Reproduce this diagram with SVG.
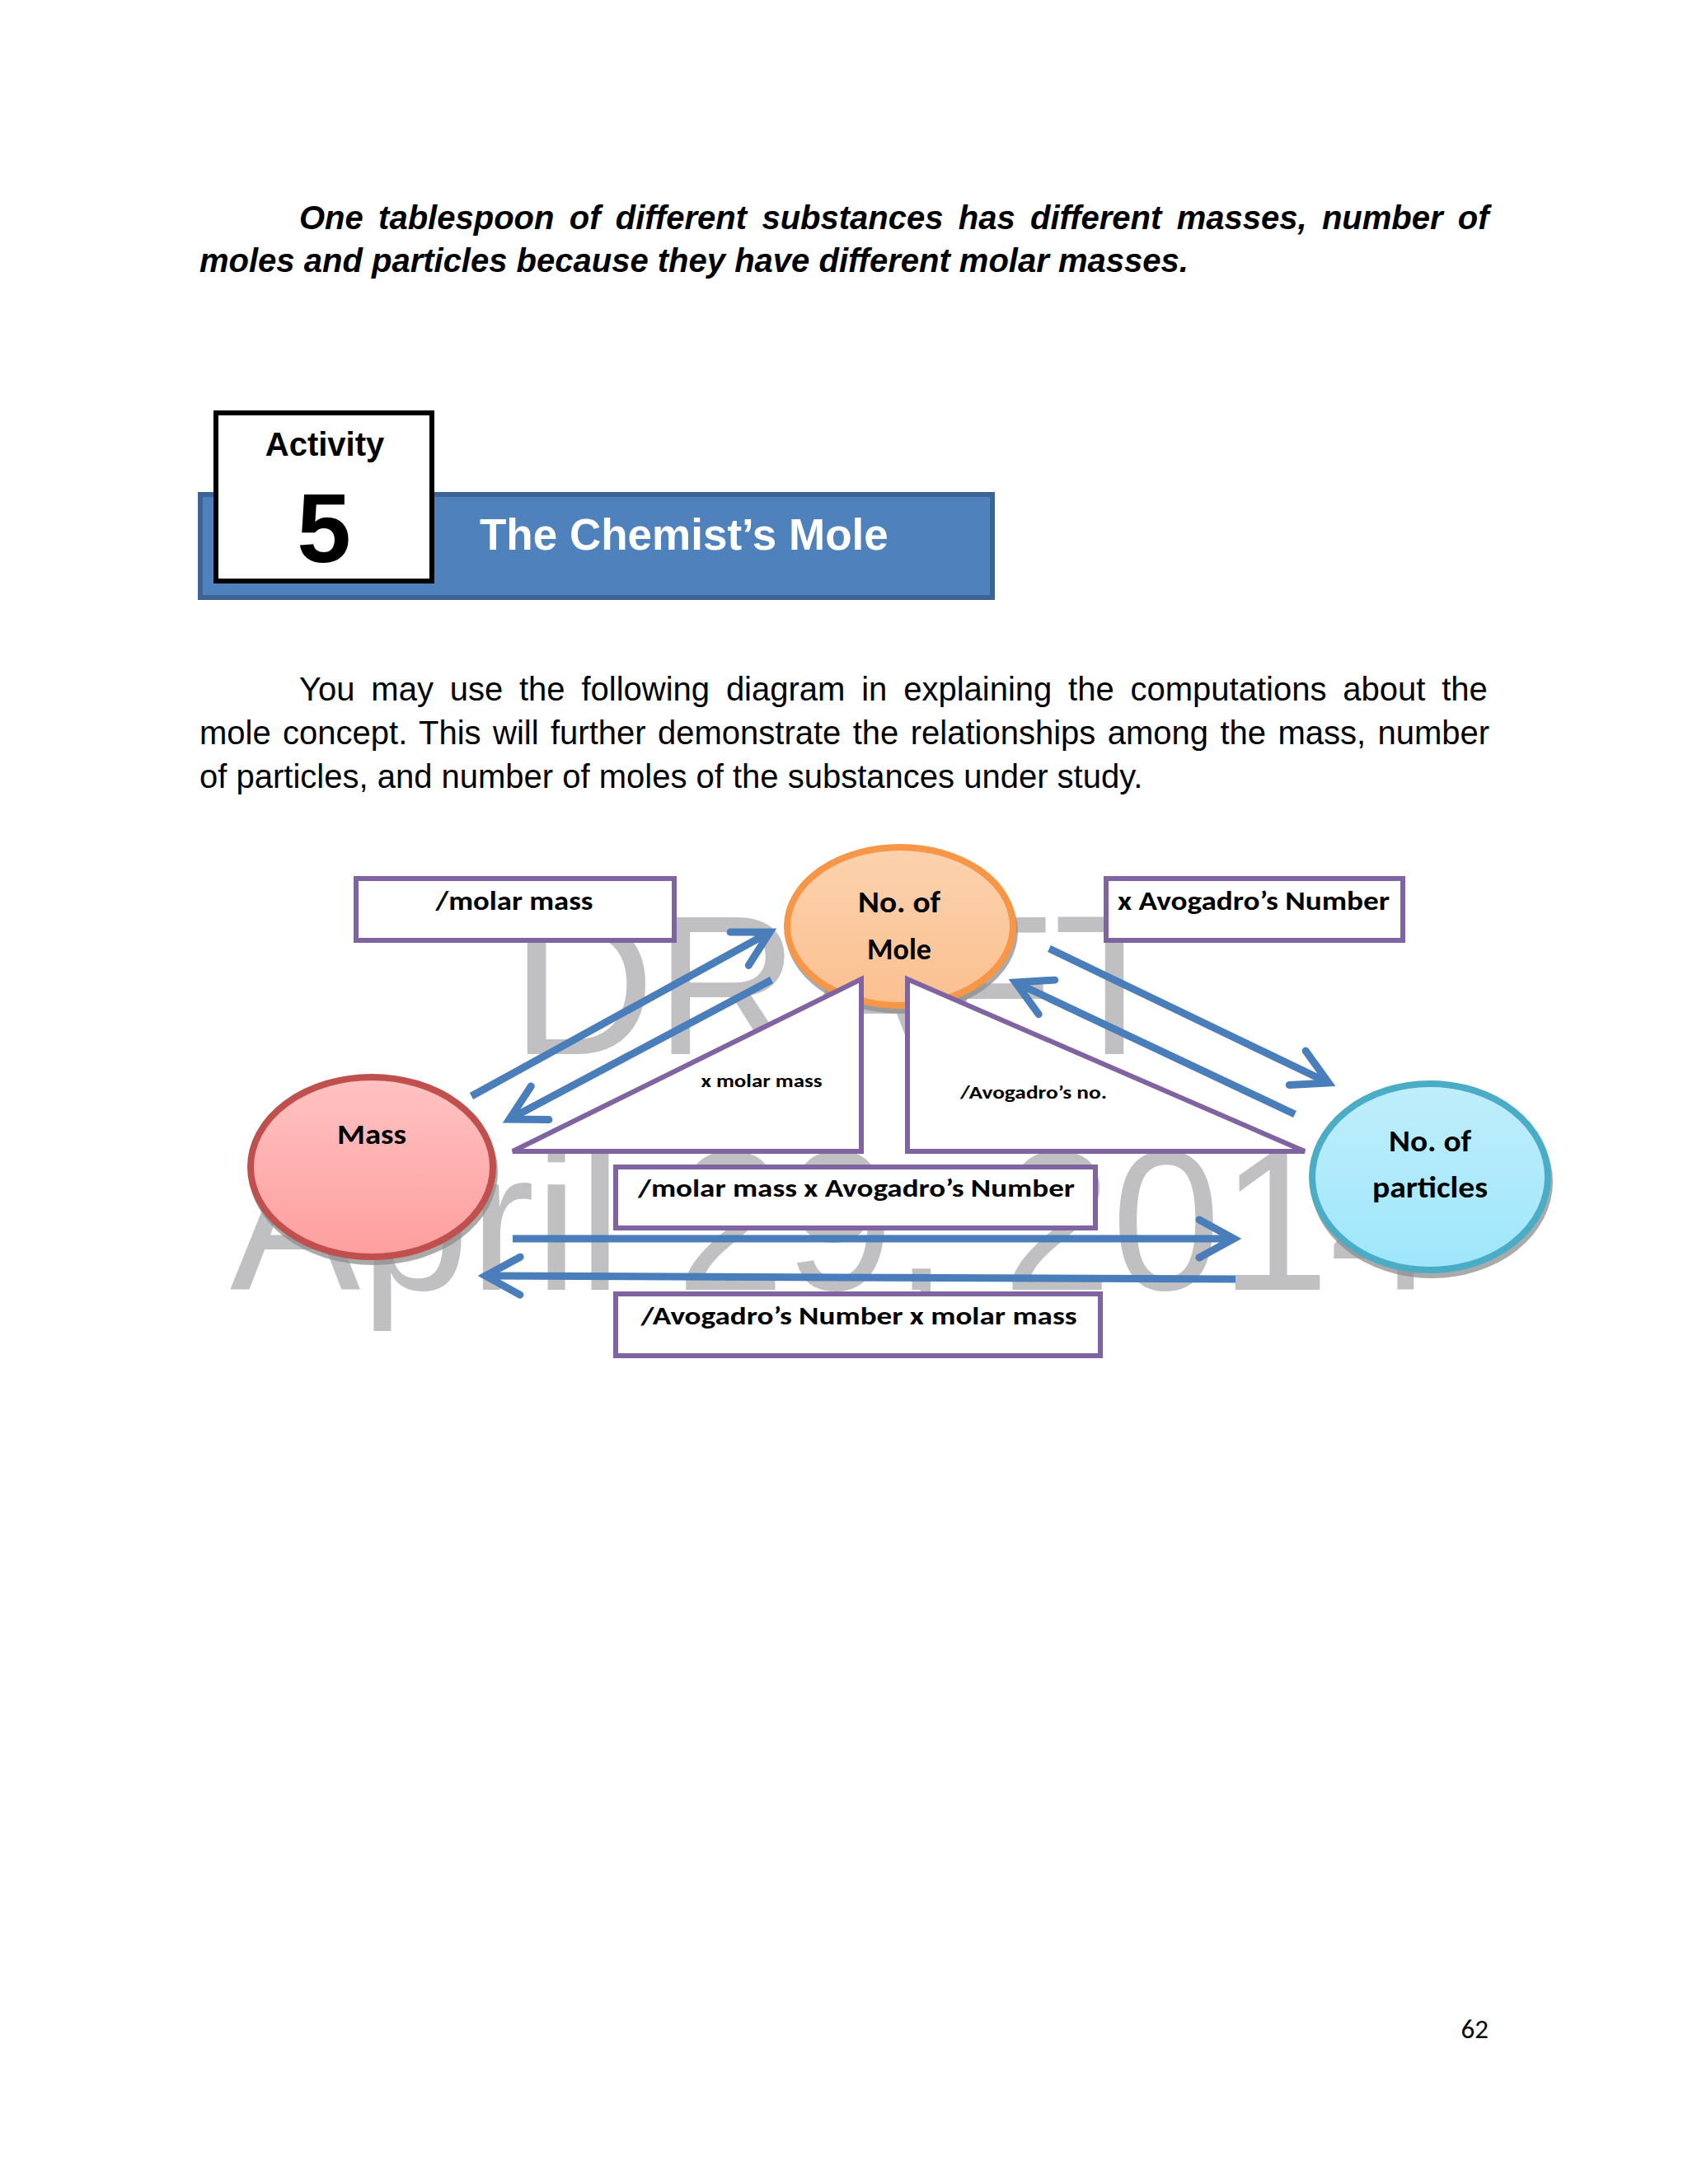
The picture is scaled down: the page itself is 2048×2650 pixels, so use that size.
<svg xmlns="http://www.w3.org/2000/svg" width="2048" height="2650" viewBox="0 0 2048 2650">
<defs>
<style>
.para{font-family:"Liberation Sans",Arial,sans-serif;font-size:40px;fill:#000}
.cal{font-family:Carlito,Lato,"Liberation Sans",sans-serif;font-weight:bold;fill:#000;text-anchor:middle}
.box{fill:#fff;stroke:#8064A2;stroke-width:6}
.tri{fill:#fff;stroke:#8064A2;stroke-width:6;stroke-linejoin:miter}
.arr{fill:none;stroke:#4A7EBB;stroke-width:9;marker-end:url(#head)}
.wm{font-family:"Liberation Sans",Arial,sans-serif;font-size:242px;fill:#C0C0C3}
.shadow{fill:#8E8E8E;opacity:0.75}
</style>
<marker id="head" markerUnits="userSpaceOnUse" markerWidth="100" markerHeight="100" refX="0" refY="0" orient="auto" overflow="visible">
<path d="M -42 -23 L 0 0 L -42 23" fill="none" stroke="#4A7EBB" stroke-width="9" stroke-linecap="round" stroke-linejoin="miter"/>
</marker>
<linearGradient id="gMass" x1="0" y1="0" x2="0" y2="1">
<stop offset="0" stop-color="#FFC2C2"/><stop offset="1" stop-color="#FF9E9E"/>
</linearGradient>
<linearGradient id="gMole" x1="0" y1="0" x2="0" y2="1">
<stop offset="0" stop-color="#FCD2AE"/><stop offset="1" stop-color="#FBC090"/>
</linearGradient>
<linearGradient id="gPart" x1="0" y1="0" x2="0" y2="1">
<stop offset="0" stop-color="#C0EEFB"/><stop offset="1" stop-color="#9EE6FC"/>
</linearGradient>
</defs>
<rect x="0" y="0" width="2048" height="2650" fill="#FFFFFF"/>

<g id="intro">
<text class="para" font-weight="bold" font-style="italic" x="363" y="278" word-spacing="7.2">One tablespoon of different substances has different masses, number of</text>
<text class="para" font-weight="bold" font-style="italic" x="242" y="330">moles and particles because they have different molar masses.</text>
</g>

<g id="activity-header">
<rect x="243" y="600" width="961" height="125" fill="#4F81BD" stroke="#3E6496" stroke-width="6"/>
<rect x="262" y="501" width="262" height="204" fill="#FFFFFF" stroke="#000000" stroke-width="6"/>
<text x="394" y="553" font-family="'Liberation Sans',Arial,sans-serif" font-weight="bold" font-size="40" text-anchor="middle">Activity</text>
<text x="393" y="682" font-family="'Liberation Sans',Arial,sans-serif" font-weight="bold" font-size="118" text-anchor="middle">5</text>
<text x="582" y="667" font-family="'Liberation Sans',Arial,sans-serif" font-weight="bold" font-size="53" fill="#FFFFFF">The Chemist’s Mole</text>
</g>

<g id="explanation">
<text class="para" x="363" y="850" word-spacing="8.7">You may use the following diagram in explaining the computations about the</text>
<text class="para" x="242" y="903" word-spacing="3.3">mole concept. This will further demonstrate the relationships among the mass, number</text>
<text class="para" x="242" y="956">of particles, and number of moles of the substances under study.</text>
</g>

<g id="watermark">
<text class="wm" x="620" y="1279" textLength="806" lengthAdjust="spacingAndGlyphs">DRAFT</text>
<text class="wm" x="279" y="1565" textLength="1466" lengthAdjust="spacingAndGlyphs">April 29, 2014</text>
</g>

<g id="node-mole">
<ellipse class="shadow" cx="1094" cy="1130" rx="141" ry="100"/>
<ellipse cx="1092" cy="1124" rx="137" ry="96" fill="url(#gMole)" stroke="#F79646" stroke-width="8"/>
<text class="cal" x="1091" y="1107" font-size="36" textLength="100" lengthAdjust="spacingAndGlyphs">No. of</text>
<text class="cal" x="1091" y="1164" font-size="36">Mole</text>
</g>

<g id="node-mass">
<ellipse class="shadow" cx="453" cy="1422" rx="151" ry="113"/>
<ellipse cx="451" cy="1416" rx="147" ry="109" fill="url(#gMass)" stroke="#C0504D" stroke-width="8"/>
<text class="cal" x="451" y="1388" font-size="34" textLength="84" lengthAdjust="spacingAndGlyphs">Mass</text>
</g>

<g id="node-particles">
<ellipse class="shadow" cx="1737" cy="1434" rx="147" ry="117"/>
<ellipse cx="1735" cy="1428" rx="143" ry="113" fill="url(#gPart)" stroke="#4BACC6" stroke-width="8"/>
<text class="cal" x="1735" y="1397" font-size="36" textLength="100" lengthAdjust="spacingAndGlyphs">No. of</text>
<text class="cal" x="1735" y="1453" font-size="36" textLength="140" lengthAdjust="spacingAndGlyphs">particles</text>
</g>

<g id="tri-molar">
<polygon class="tri" points="622,1397 1045,1188 1045,1397"/>
<text class="cal" x="924" y="1319" font-size="23" textLength="147" lengthAdjust="spacingAndGlyphs">x molar mass</text>
</g>

<g id="tri-avogadro">
<polygon class="tri" points="1101,1188 1101,1397 1583,1397"/>
<text class="cal" x="1254" y="1333" font-size="23" textLength="178" lengthAdjust="spacingAndGlyphs">/Avogadro’s no.</text>
</g>

<g id="label-div-molar">
<rect class="box" x="432" y="1066" width="386" height="75"/>
<text class="cal" x="624" y="1104" font-size="32" textLength="191" lengthAdjust="spacingAndGlyphs">/molar mass</text>
</g>

<g id="label-x-avogadro">
<rect class="box" x="1342" y="1066" width="360" height="75"/>
<text class="cal" x="1521" y="1104" font-size="32" textLength="330" lengthAdjust="spacingAndGlyphs">x Avogadro’s Number</text>
</g>

<g id="label-mass-to-particles">
<rect class="box" x="747" y="1416" width="582" height="74"/>
<text class="cal" x="1039" y="1452" font-size="30" textLength="530" lengthAdjust="spacingAndGlyphs">/molar mass x Avogadro’s Number</text>
</g>

<g id="label-particles-to-mass">
<rect class="box" x="747" y="1570" width="588" height="75"/>
<text class="cal" x="1042" y="1607" font-size="30" textLength="529" lengthAdjust="spacingAndGlyphs">/Avogadro’s Number x molar mass</text>
</g>

<g id="connectors">
<line class="arr" x1="572" y1="1330" x2="934" y2="1131"/>
<line class="arr" x1="936" y1="1189" x2="618" y2="1358"/>
<line class="arr" x1="1273" y1="1151" x2="1612" y2="1314"/>
<line class="arr" x1="1571" y1="1352" x2="1232" y2="1192"/>
<line class="arr" x1="622" y1="1503" x2="1497" y2="1503"/>
<line class="arr" x1="1499" y1="1552" x2="589" y2="1548"/>
</g>

<g id="page-number">
<text x="1806" y="2473" font-family="Carlito,Lato,'Liberation Sans',sans-serif" font-size="33" text-anchor="end">62</text>
</g>
</svg>
